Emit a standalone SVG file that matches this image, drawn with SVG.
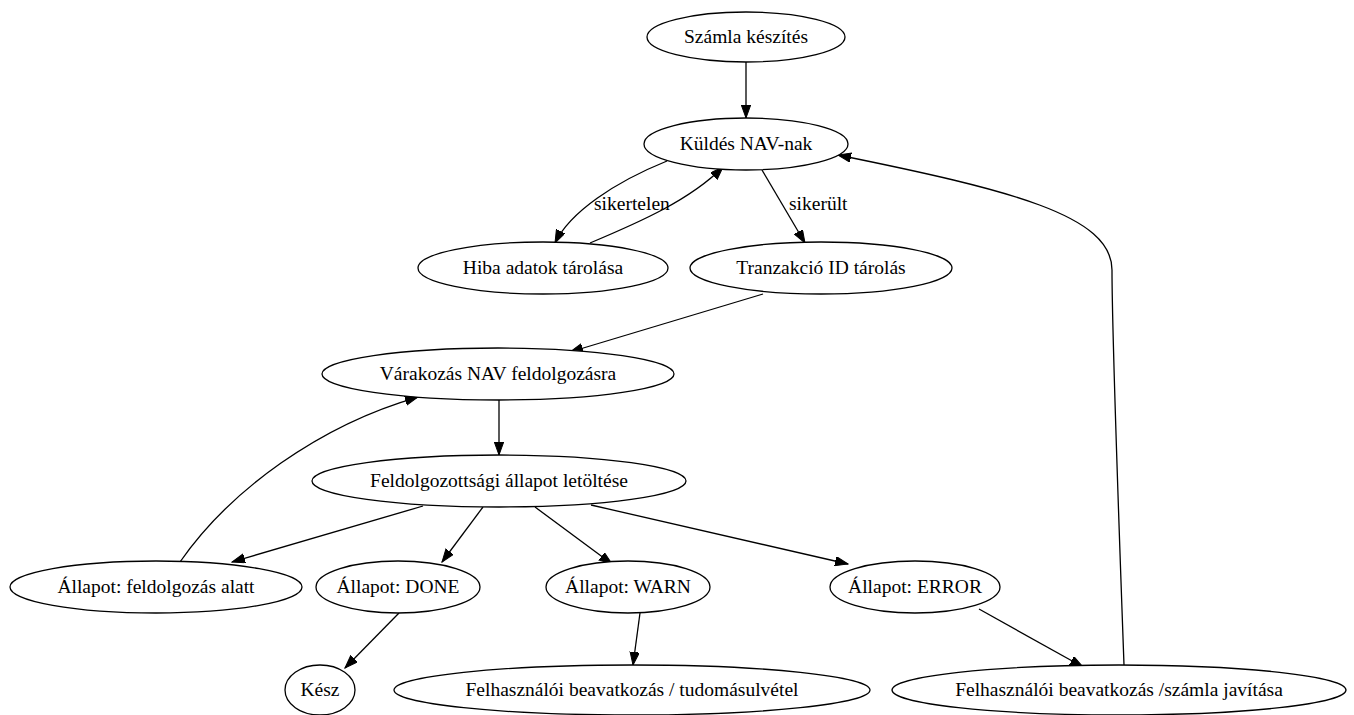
<svg xmlns="http://www.w3.org/2000/svg" width="1354" height="715" viewBox="0 0 1354 715">
<style>
.n ellipse{fill:#fff;stroke:#000;stroke-width:1.3}
text{font-family:"Liberation Serif","Times New Roman",serif;font-size:19.5px;fill:#000;text-anchor:middle}
.e path{fill:none;stroke:#000;stroke-width:1.3;marker-end:url(#ah)}
.lbl{text-anchor:start}
</style>
<defs>
<marker id="ah" markerUnits="userSpaceOnUse" markerWidth="14" markerHeight="10" refX="13" refY="4.7" orient="auto">
<path d="M0,0 L13,4.7 L0,9.4 z" fill="#000" stroke="#000" stroke-width="1"/>
</marker>
</defs>
<rect width="1354" height="715" fill="#fff"/>
<g id="edges" class="e">
<path d="M746,62 L746,118"/>
<path d="M667,161 C615,182 570,212 555,243"/>
<path d="M590,243 C640,222 690,200 723,167"/>
<path d="M762,170 L805,243"/>
<path d="M763,294 L570,352"/>
<path d="M499,400 L499,455"/>
<path d="M423,506 L232,562"/>
<path d="M483,507 L442,562"/>
<path d="M535,507 L612,564"/>
<path d="M591,505 L848,564"/>
<path d="M180,562 C230,490 320,425 418,397"/>
<path d="M399,613 L345,668"/>
<path d="M640,613 L633,665"/>
<path d="M979,609 L1083,667"/>
<path d="M1124,665 C1118,500 1112,330 1112,270 C1112,215 1010,190 838,155"/>
<text class="lbl" x="594" y="210">sikertelen</text>
<text class="lbl" x="789" y="210">sikerült</text>
</g>
<g id="n1" class="n"><ellipse cx="746" cy="37" rx="99" ry="25"/><text x="746" y="43">Számla készítés</text></g>
<g id="n2" class="n"><ellipse cx="746" cy="144" rx="102" ry="26"/><text x="746" y="150">Küldés NAV-nak</text></g>
<g id="n3" class="n"><ellipse cx="543" cy="268" rx="125" ry="26"/><text x="543" y="274">Hiba adatok tárolása</text></g>
<g id="n4" class="n"><ellipse cx="821" cy="268" rx="131" ry="26"/><text x="821" y="274">Tranzakció ID tárolás</text></g>
<g id="n5" class="n"><ellipse cx="498" cy="374" rx="176" ry="26"/><text x="498" y="380">Várakozás NAV feldolgozásra</text></g>
<g id="n6" class="n"><ellipse cx="499" cy="481" rx="187" ry="26"/><text x="499" y="487">Feldolgozottsági állapot letöltése</text></g>
<g id="n7" class="n"><ellipse cx="156" cy="587" rx="146" ry="26"/><text x="156" y="593">Állapot: feldolgozás alatt</text></g>
<g id="n8" class="n"><ellipse cx="398" cy="587" rx="82" ry="26"/><text x="398" y="593">Állapot: DONE</text></g>
<g id="n9" class="n"><ellipse cx="628" cy="587" rx="82" ry="26"/><text x="628" y="593">Állapot: WARN</text></g>
<g id="n10" class="n"><ellipse cx="915" cy="587" rx="85" ry="26"/><text x="915" y="593">Állapot: ERROR</text></g>
<g id="n11" class="n"><ellipse cx="320" cy="690" rx="35" ry="25"/><text x="320" y="696">Kész</text></g>
<g id="n12" class="n"><ellipse cx="632" cy="690" rx="238" ry="25"/><text x="632" y="696">Felhasználói beavatkozás / tudomásulvétel</text></g>
<g id="n13" class="n"><ellipse cx="1119" cy="690" rx="227" ry="25"/><text x="1119" y="696">Felhasználói beavatkozás /számla javítása</text></g>
</svg>
